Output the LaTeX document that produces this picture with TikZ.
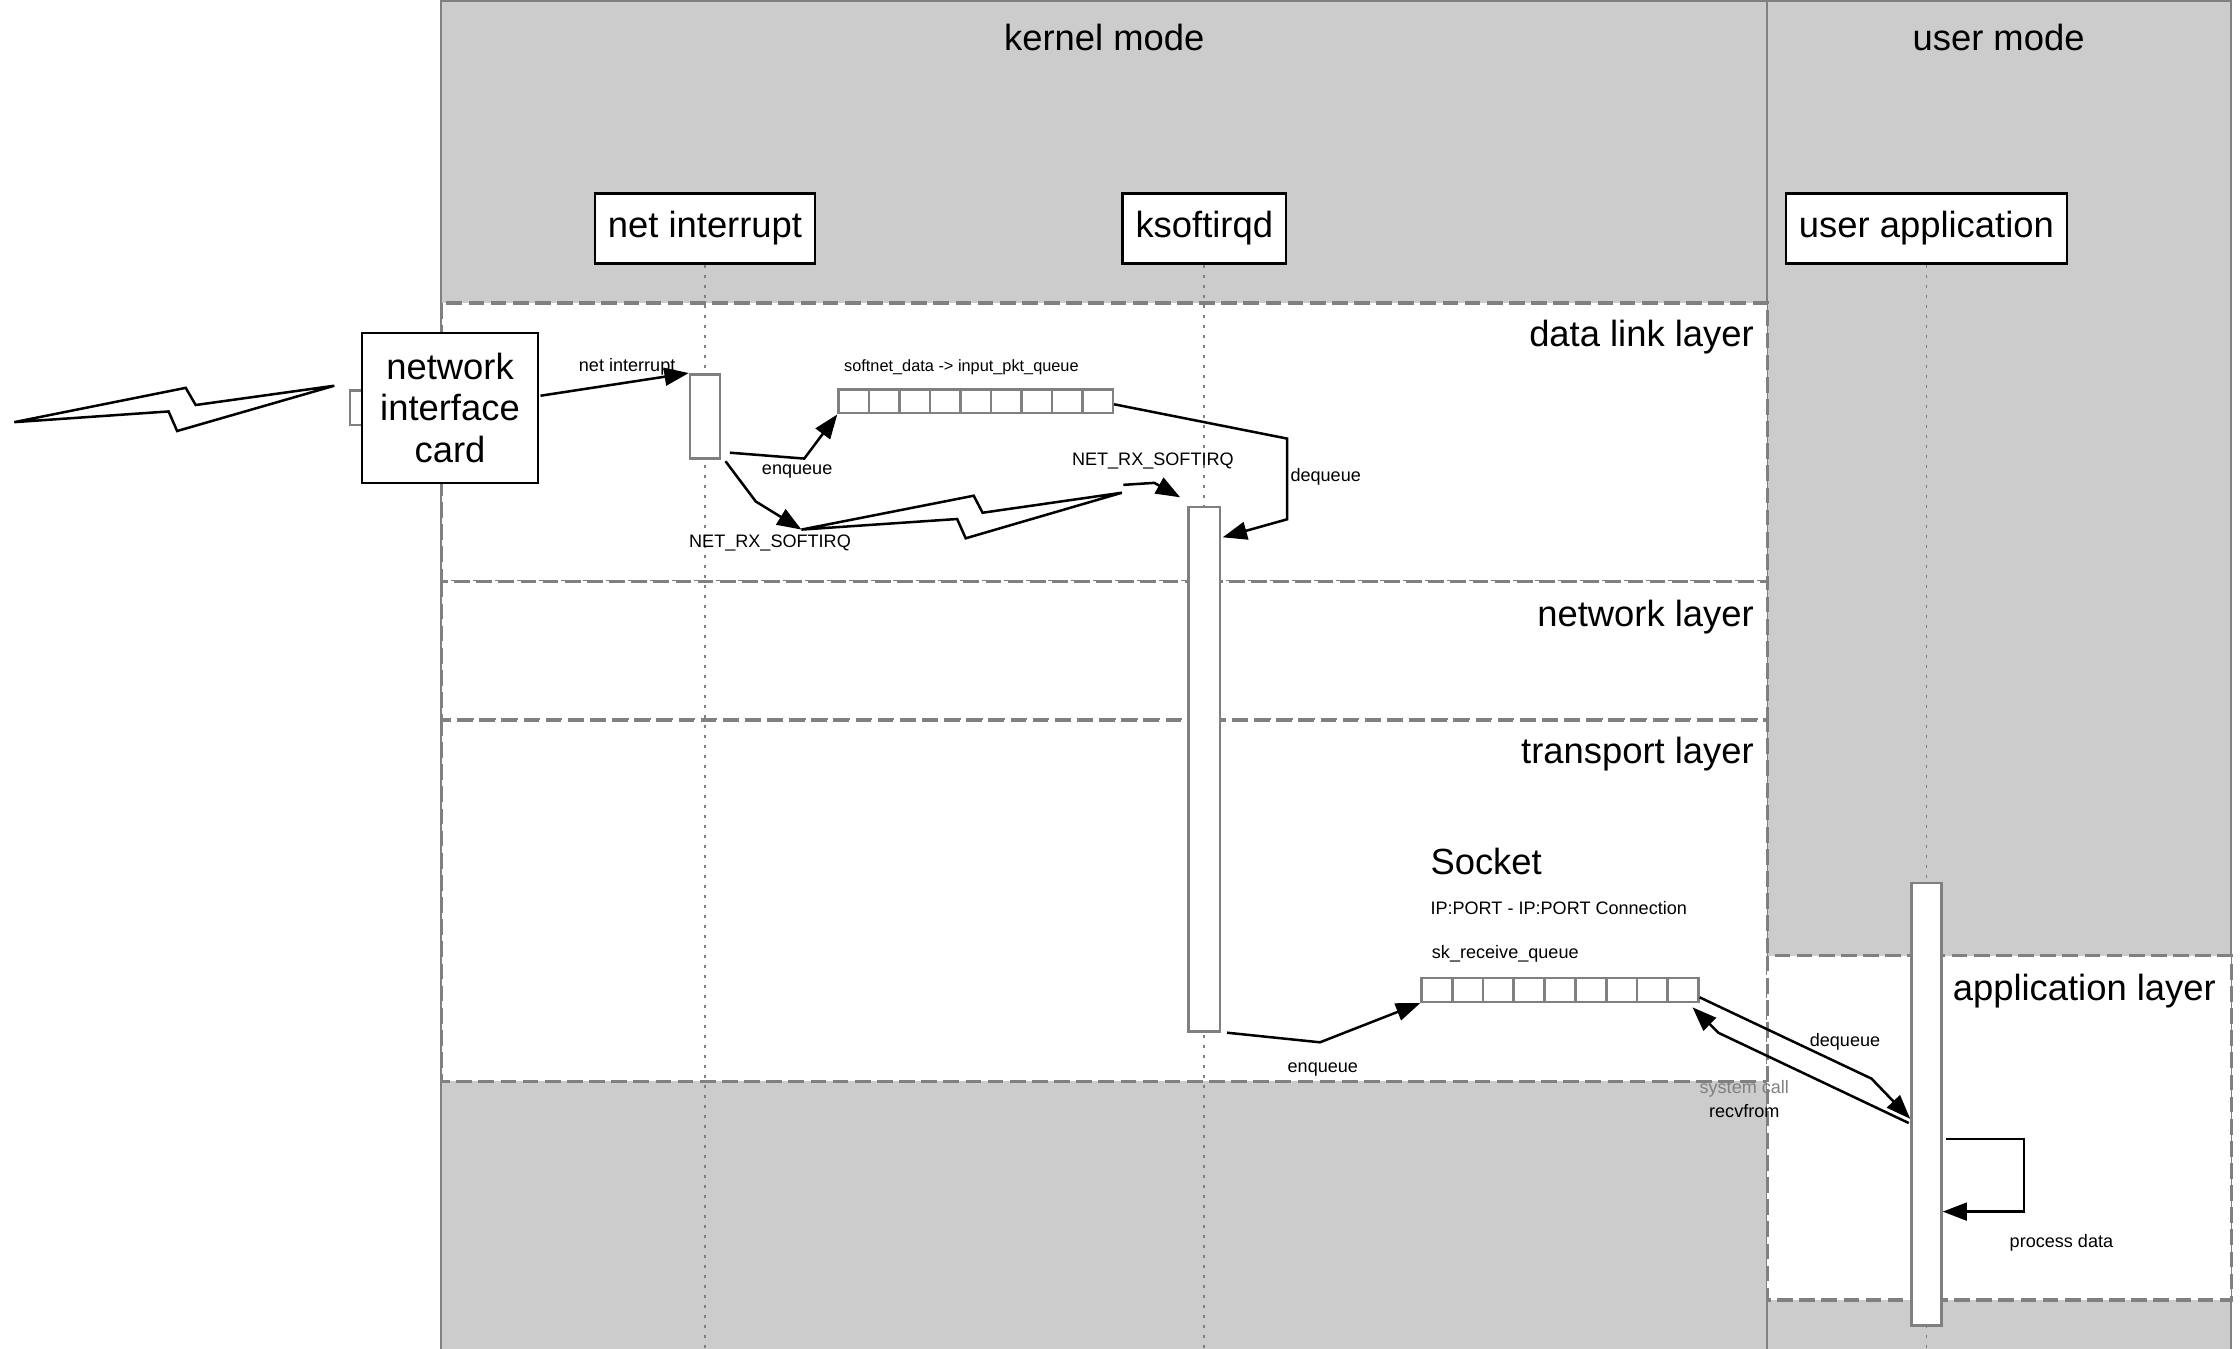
\documentclass[tikz,border=0pt]{standalone}
\usepackage{fontspec}
\setmainfont{Liberation Sans}
\usetikzlibrary{positioning, fit, arrows.meta, calc}
\definecolor{modegray}{HTML}{CCCCCC}
\definecolor{linegray}{HTML}{808080}
\tikzset{
  region/.style={fill=modegray, draw=linegray, line width=0.8pt},
  layerbox/.style={fill=white, draw=linegray, dash pattern=on 0.22cm off 0.09cm, line width=1.3pt},
  lifebox/.style={draw, fill=white, line width=1pt, minimum height=0.98cm,
                  inner xsep=0.18cm, font=\fontsize{14.5}{16.5}\selectfont},
  lifeline/.style={draw=linegray, dash pattern=on 0.05cm off 0.09cm, line width=0.7pt},
  act/.style={draw=linegray, fill=white, line width=1pt, inner sep=0pt},
  cell/.style={draw=linegray, fill=white, line width=1pt,
               minimum width=0.428cm, minimum height=0.33cm, inner sep=0pt},
  msg/.style={-{Triangle[length=0.34cm, width=0.25cm]}, line width=1pt},
  bolt/.style={draw, line width=1pt, line join=miter},
  title/.style={font=\fontsize{14.5}{16.5}\selectfont, inner sep=0pt},
  lbl/.style={font=\fontsize{7.2}{9}\selectfont, inner sep=0pt}
}

\begin{document}
\begin{tikzpicture}[x=0.02cm, y=-0.02cm]
    \path[use as bounding box, fill=white] (0,0) rectangle (1568,944);
    \clip (0,0) rectangle (1568,944);

    % kernel / user mode
    \draw[region] (309,1) rectangle (1237,960);
    \draw[region] (1237,1) rectangle (1562,960);
    \node[title] (kernel) at (773,26) {kernel mode};
    \node[title] (user) at (1399,26) {user mode};

    % layers
    \draw[layerbox] (309,212) rectangle (1237,407);
    \draw[layerbox] (309,407) rectangle (1237,504);
    \draw[layerbox] (309,504) rectangle (1237,757);
    \draw[layerbox] (1237,669) rectangle (1562,910);
    \draw[linegray, line width=0.8pt] (309,1) -- (309,960);
    \node[title, anchor=east] (datalink) at (1228,236) {data link layer};
    \node[title, anchor=east] (network) at (1228,432) {network layer};
    \node[title, anchor=east] (transport) at (1228,528) {transport layer};
    \node[title] (application) at (1459,694) {application layer};

    % lifelines
    \node[lifebox] (irq) at (493.5,160) {net interrupt};
    \node[lifebox] (sirq) at (843,160) {ksoftirqd};
    \node[lifebox] (app) at (1348.5,160) {user application};
    \draw[lifeline] (irq.south) -- ++(0,800);
    \draw[lifeline] (sirq.south) -- ++(0,800);
    \draw[lifeline] (app.south) -- ++(0,800);

    \node[act, fit={(483,262) (504,321)}] (irqact) {};
    \node[act, fit={(832,355) (854,722)}] (sirqact) {};
    \node[act, fit={(1338,618) (1359,928)}] (appact) {};

    % network interface card
    \node[act, fit={(245,273.5) (254,297.5)}] (port) {};
    \node[draw, fill=white, line width=1pt, minimum width=2.46cm, minimum height=2.1cm,
          align=center, inner sep=0pt, font=\fontsize{14.5}{16.5}\selectfont]
          (nic) at (315,285.5) {network\\interface\\card};
    \draw[bolt] (10,295.5) -- (130,271.5) -- (137,283.5) -- (234,270)
                -- (124,301.7) -- (118,288) -- cycle;

    % queues
    \node[lbl, font=\fontsize{6.5}{8}\selectfont] (snlabel) at (673,257) {softnet\_data -> input\_pkt\_queue};
    \foreach \i in {1,...,9}
      \node[cell] (sn\i) at ({587+(\i-0.5)*21.33},281) {};
    \node[title, anchor=west] (socket) at (1001,603) {Socket};
    \node[lbl, anchor=west] (conn) at (1001,635.5) {IP:PORT - IP:PORT Connection};
    \node[lbl, anchor=west] (sklabel) at (1002,668) {sk\_receive\_queue};
    \foreach \i in {1,...,9}
      \node[cell] (sk\i) at ({995+(\i-0.5)*21.55},693) {};

    % softirq flash
    \coordinate (boltL) at (561,370.7);
    \coordinate (boltR) at (785.3,344.9);
    \draw[bolt] (boltL) -- (681.6,347) -- (687.8,358.9) -- (boltR)
                -- (676,376.8) -- (670,363.3) -- cycle;

    % messages
    \draw[msg] ($(nic.east)+(1,-8.5)$) -- (irqact.north west);
    \node[lbl] at (439,257) {net interrupt};
    \draw[msg] ($(irqact.south east)+(6,-5)$) -- (563,321) -- (sn1.south west);
    \node[lbl] at (558,330) {enqueue};
    \draw[msg] ($(irqact.south east)+(3,1)$) -- (529,351) -- (boltL);
    \node[lbl] at (539,380) {NET\_RX\_SOFTIRQ};
    \draw[msg] ($(boltR)+(1,-5.5)$) -- (808,338) -- ($(sirqact.north west)+(-5,-6)$);
    \node[lbl] at (807,323) {NET\_RX\_SOFTIRQ};
    \draw[msg] ($(sn9.east)+(0,2)$) -- (901,307) -- (901,363.5) -- ($(sirqact.north east)+(1,22)$);
    \node[lbl, anchor=west] at (903,334) {dequeue};
    \draw[msg] ($(sirqact.south east)+(4,0)$) -- (924,729.6) -- (sk1.south west);
    \node[lbl] at (926,748.5) {enqueue};
    \draw[msg] ($(sk9.south east)+(0,-4)$) -- (1310,755) -- ($(appact.north west)+(0,166)$);
    \node[lbl] at (1291.5,729) {dequeue};
    \draw[msg] ($(appact.north west)+(-1,169)$) -- (1203,723) -- ($(sk9.south east)+(-5,3)$);
    \node[lbl, text=linegray] at (1221,762) {system call};
    \node[lbl] at (1221,777.5) {recvfrom};
    \draw[msg] ($(appact.north east)+(2,180)$) -- ++(55,0) |- ($(appact.north east)+(0,231)$);
    \node[lbl] at (1443,870) {process data};
\end{tikzpicture}
\end{document}
